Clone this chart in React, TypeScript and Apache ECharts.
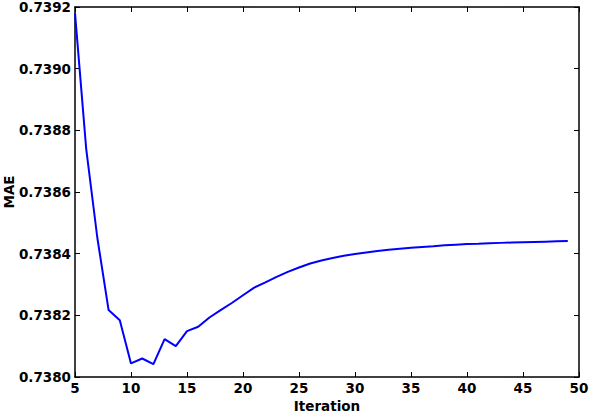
import React, { useEffect, useRef } from "react";
import * as echarts from "echarts";

const iterations: number[] = [
  5, 6, 7, 8, 9, 10, 11, 12, 13, 14, 15, 16, 17, 18, 19, 20, 21, 22, 23, 24, 25, 26, 27,
  28, 29, 30, 31, 32, 33, 34, 35, 36, 37, 38, 39, 40, 41, 42, 43, 44, 45, 46, 47, 48, 49,
];
const mae: number[] = [
  0.73918, 0.73874, 0.73845, 0.738217, 0.738184, 0.738044, 0.73806, 0.738042, 0.738123,
  0.7381, 0.738149, 0.738163, 0.738193, 0.738217, 0.73824, 0.738265, 0.73829, 0.738307,
  0.738325, 0.738341, 0.738355, 0.738368, 0.738378, 0.738386, 0.738393, 0.738399,
  0.738404, 0.738409, 0.738413, 0.738416, 0.738419, 0.738422, 0.738424, 0.738427,
  0.738429, 0.738431, 0.738432, 0.738434, 0.738435, 0.738436, 0.738437, 0.738438,
  0.738439, 0.73844, 0.738441,
];
const xName = "Iteration";
const yName = "MAE";

const FONT = "DejaVu Sans";

export default function App() {
  const ref = useRef<HTMLDivElement>(null);
  useEffect(() => {
    if (!ref.current) return;
    const chart = echarts.init(ref.current, null, { renderer: "svg" });
    const axisLine = { show: true, lineStyle: { color: "#000", width: 1.5 } };
    const tick = { show: true, inside: true, length: 5, lineStyle: { color: "#000", width: 1 } };
    const label = { color: "#000", fontFamily: FONT, fontWeight: "bold" as const, fontSize: 13.5 };
    chart.setOption({
      animation: false,
      backgroundColor: "#fff",
      grid: {
        left: 75,
        right: 11,
        top: 7,
        bottom: 37,
        containLabel: false,
        outerBoundsMode: "none",
      },
      xAxis: [
        {
          type: "value",
          min: 5,
          max: 50,
          interval: 5,
          position: "bottom",
          name: xName,
          nameLocation: "middle",
          nameGap: 22,
          nameMoveOverlap: false,
          nameTextStyle: { ...label },
          axisLine,
          axisTick: tick,
          axisLabel: { ...label, margin: 4 },
          splitLine: { show: false },
        },
        {
          type: "value",
          min: 5,
          max: 50,
          interval: 5,
          position: "top",
          axisLine,
          axisTick: tick,
          axisLabel: { show: false },
          splitLine: { show: false },
        },
      ],
      yAxis: [
        {
          type: "value",
          min: 0.738,
          max: 0.7392,
          interval: 0.0002,
          position: "left",
          name: yName,
          nameLocation: "middle",
          nameGap: 59,
          nameMoveOverlap: false,
          nameRotate: 90,
          nameTextStyle: { ...label },
          axisLine,
          axisTick: tick,
          axisLabel: { ...label, margin: 4, formatter: (v: number) => v.toFixed(4) },
          splitLine: { show: false },
        },
        {
          type: "value",
          min: 0.738,
          max: 0.7392,
          interval: 0.0002,
          position: "right",
          axisLine,
          axisTick: tick,
          axisLabel: { show: false },
          splitLine: { show: false },
        },
      ],
      series: [
        {
          type: "line",
          xAxisIndex: 0,
          yAxisIndex: 0,
          data: iterations.map((x, i) => [x, mae[i]]),
          showSymbol: false,
          lineStyle: { color: "#0000ff", width: 2 },
          itemStyle: { color: "#0000ff" },
        },
      ],
    });
    return () => chart.dispose();
  }, []);
  return <div ref={ref} style={{ width: 590, height: 414, position: "absolute", left: 0, top: 0 }} />;
}
